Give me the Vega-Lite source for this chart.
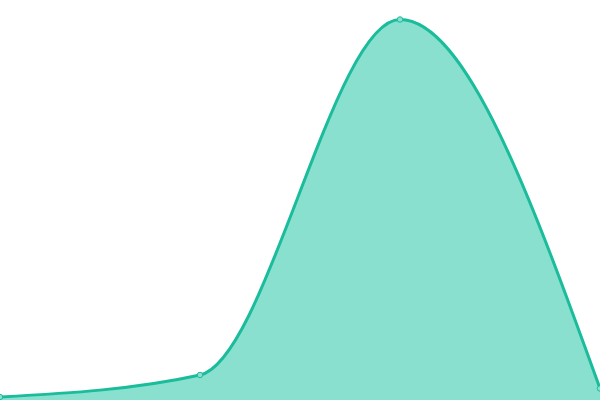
{
  "$schema": "https://vega.github.io/schema/vega-lite/v6.json",
  "width": 600,
  "height": 400,
  "padding": 0,
  "autosize": {"type": "fit", "contains": "padding"},
  "config": {"view": {"stroke": null}},
  "data": {"values": [
    {"x": 0, "y": 3},
    {"x": 1, "y": 25},
    {"x": 2, "y": 380.5},
    {"x": 3, "y": 11.5}
  ]},
  "encoding": {
    "x": {"field": "x", "type": "quantitative", "scale": {"domain": [0, 3], "nice": false, "zero": false}, "axis": null},
    "y": {"field": "y", "type": "quantitative", "scale": {"domain": [0, 400], "nice": false}, "axis": null}
  },
  "layer": [
    {"mark": {"type": "area", "interpolate": "monotone", "color": "#89e0cf", "fillOpacity": 1, "clip": true}},
    {"mark": {"type": "line", "interpolate": "monotone", "color": "#1abc9c", "strokeWidth": 3, "clip": true}},
    {"mark": {"type": "point", "shape": "circle", "size": 30, "filled": true, "fill": "#8ae0d0", "stroke": "#1abc9c", "strokeWidth": 1, "opacity": 1, "clip": true}}
  ]
}
